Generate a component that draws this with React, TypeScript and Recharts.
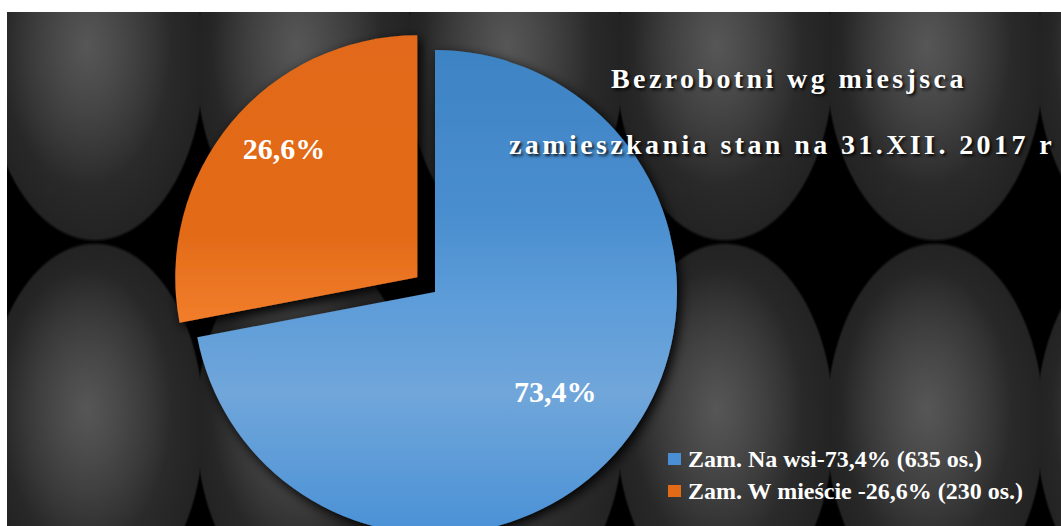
import { PieChart, Pie, Cell, Legend } from 'recharts';

// dane
const categories = ['Zam. Na wsi', 'Zam. W mieście'];
const counts = [635, 230];
// udział wycinków tak, jak są narysowane na obrazku (kąt ok. 259° / 101°)
const drawnShare = [72.0, 28.0];
const sliceLabels = ['73,4%', '26,6%'];
const legendLabels = ['Zam. Na wsi-73,4% (635 os.)', 'Zam. W mieście -26,6% (230 os.)'];
const titleLines = ['Bezrobotni wg miesjsca', 'zamieszkania stan na 31.XII. 2017 r'];

const chartData = categories.map((name, i) => ({ name, value: drawnShare[i], count: counts[i] }));

const W = 1054;
const H = 514;
const CX = 423;
const CY = 275;
const R = 242;
const EXPLODE = 23;
const RAD = Math.PI / 180;
const serif = '"Liberation Serif", "Times New Roman", serif';

const fills = ['url(#blueGrad)', 'url(#orangeGrad)'];
const swatch = ['#4a8fd3', '#e36a17'];
const labelRadius = [0.645, 0.765];
const labelAngleShift = [0, -4.4];

// kąt środka wycinka "W mieście" (wysunięty)
const total = drawnShare.reduce((a, b) => a + b, 0);
const orangeMid = 90 - (360 * (drawnShare[0] + drawnShare[1] / 2)) / total;
const CX2 = CX + EXPLODE * Math.cos(orangeMid * RAD);
const CY2 = CY - EXPLODE * Math.sin(orangeMid * RAD);

function makeLabel(visibleIndex: number) {
  return (props: any) => {
    const { cx, cy, midAngle, outerRadius, index } = props;
    if (index !== visibleIndex) return null;
    const r = outerRadius * labelRadius[index];
    const a = midAngle + labelAngleShift[index];
    const x = cx + r * Math.cos(-a * RAD);
    const y = cy + r * Math.sin(-a * RAD);
    return (
      <text x={x} y={y} fill="#fff" textAnchor="middle" dominantBaseline="central"
        style={{ fontFamily: serif, fontWeight: 700, fontSize: 30 }}>
        {sliceLabels[index]}
      </text>
    );
  };
}

function renderLegend() {
  return (
    <div style={{ fontFamily: serif, fontWeight: 700, fontSize: 24, color: '#fff' }}>
      {legendLabels.map((label, i) => (
        <div key={label} style={{ display: 'flex', alignItems: 'center', height: 32, whiteSpace: 'nowrap' }}>
          <span style={{ display: 'inline-block', width: 13, height: 12, background: swatch[i], marginRight: 7 }} />
          <span>{label}</span>
        </div>
      ))}
    </div>
  );
}

export default function App() {
  return (
    <div style={{ position: 'fixed', left: 0, top: 0, width: 1061, height: 526, background: '#fff' }}>
      <div
        style={{
          position: 'absolute',
          left: 7,
          top: 12,
          width: W,
          height: H,
          overflow: 'hidden',
          backgroundColor: '#000',
          backgroundImage: [
            'radial-gradient(ellipse 85px 140px at 46% 46%, rgba(90,90,90,0.9) 0%, rgba(90,90,90,0) 100%)',
            'radial-gradient(ellipse 110px 182px at 50% 50%, #363636 0%, #2c2c2c 60%, #232323 98%, #000 100%)',
          ].join(','),
          backgroundSize: '210px 364px',
          backgroundPosition: '-17px -134px',
        }}
      >
        <PieChart width={W} height={H}>
          <defs>
            <linearGradient id="blueGrad" x1="0" y1="33" x2="0" y2="517" gradientUnits="userSpaceOnUse">
              <stop offset="0" stopColor="#3d83c4" />
              <stop offset="0.35" stopColor="#4a8ecf" />
              <stop offset="0.52" stopColor="#5c9cd9" />
              <stop offset="0.72" stopColor="#70a6da" />
              <stop offset="1" stopColor="#4b92d6" />
            </linearGradient>
            <linearGradient id="orangeGrad" x1="0" y1="18" x2="0" y2="312" gradientUnits="userSpaceOnUse">
              <stop offset="0" stopColor="#e2691a" />
              <stop offset="0.7" stopColor="#e36b18" />
              <stop offset="1" stopColor="#f27e2c" />
            </linearGradient>
            <filter id="shadow" x="-20%" y="-20%" width="140%" height="140%">
              <feDropShadow dx="3" dy="4" stdDeviation="6" floodColor="#000" floodOpacity="1" />
            </filter>
          </defs>
          <Pie
            data={chartData}
            dataKey="value"
            nameKey="name"
            cx={CX}
            cy={CY}
            outerRadius={R}
            startAngle={90}
            endAngle={-270}
            stroke="none"
            label={makeLabel(0)}
            labelLine={false}
            isAnimationActive={false}
          >
            {chartData.map((d, i) => (
              <Cell key={d.name} fill={i === 0 ? fills[0] : 'transparent'} filter={i === 0 ? 'url(#shadow)' : undefined} />
            ))}
          </Pie>
          <Pie
            data={chartData}
            dataKey="value"
            nameKey="name"
            cx={CX2}
            cy={CY2}
            outerRadius={R}
            startAngle={90}
            endAngle={-270}
            stroke="none"
            label={makeLabel(1)}
            labelLine={false}
            isAnimationActive={false}
          >
            {chartData.map((d, i) => (
              <Cell key={d.name} fill={i === 1 ? fills[1] : 'transparent'} filter={i === 1 ? 'url(#shadow)' : undefined} />
            ))}
          </Pie>
          <Legend
            content={renderLegend}
            layout="vertical"
            wrapperStyle={{ position: 'absolute', left: 661, top: 431, width: 393 }}
          />
        </PieChart>
        {titleLines.map((line, i) => (
          <div
            key={line}
            style={{
              position: 'absolute',
              left: i === 0 ? 604 : 502,
              top: i === 0 ? 51 : 117,
              fontFamily: serif,
              fontWeight: 700,
              fontSize: 28,
              letterSpacing: 3.4,
              color: '#fff',
              whiteSpace: 'nowrap',
              textShadow: '2px 2px 3px rgba(0,0,0,0.85)',
            }}
          >
            {line}
          </div>
        ))}
      </div>
    </div>
  );
}
